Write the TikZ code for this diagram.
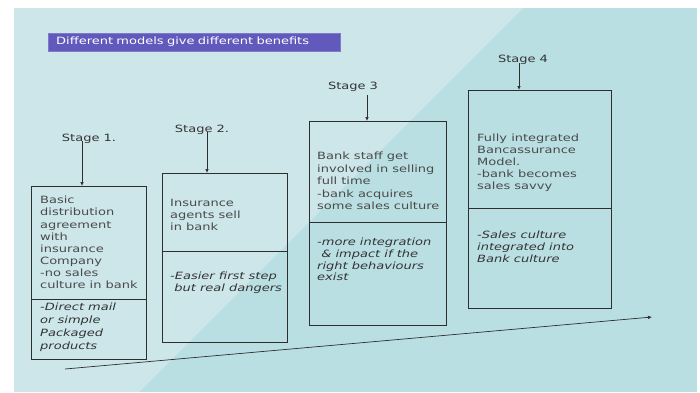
\documentclass[tikz,border=0pt]{standalone}
\usepackage{fontspec}
\setmainfont{DejaVu Sans}[FakeStretch=1.3]
\usetikzlibrary{arrows.meta}
\definecolor{bgdark}{HTML}{BADFE3}
\definecolor{bglight}{HTML}{CCE6EA}
\definecolor{titlefill}{HTML}{6159BC}
\definecolor{ink}{HTML}{2E2E2E}
\definecolor{txtup}{HTML}{4A4A4A}
\definecolor{txtlo}{HTML}{333333}
\tikzset{
  boxpart/.style={draw=ink, line width=0.8pt, inner sep=0pt, anchor=north west},
  uptext/.style={anchor=north west, inner sep=0pt, align=left, text=txtup, font=\fontsize{10}{12.1}\selectfont},
  lotext/.style={anchor=north west, inner sep=0pt, align=left, text=txtlo, font=\fontsize{10}{12}\selectfont\itshape},
  stagelabel/.style={inner sep=0pt, text=txtlo, font=\fontsize{10}{12}\selectfont},
  pointer/.style={draw=ink, line width=0.7pt, -{Latex[length=4pt,width=3.5pt]}},
}
\begin{document}
\begin{tikzpicture}[x=1pt,y=-1pt]
\useasboundingbox (0,0) rectangle (700,392);
\fill[white] (0,0) rectangle (700,392);
\fill[bgdark] (14,8) rectangle (697,392);
\fill[bglight] (14,8) -- (523,8) -- (139,392) -- (14,392) -- cycle;

% title
\node[fill=titlefill, draw=titlefill!80!white, text=white, anchor=north west, minimum height=18pt,
      inner xsep=8pt, inner ysep=0pt, text width=276pt, align=left,
      font=\fontsize{10}{12}\selectfont] (title) at (48,33) {Different models give different benefits};

% boxes
\node[boxpart, minimum width=115pt, minimum height=113pt] (u1) at (31,186) {};
\node[boxpart, minimum width=115pt, minimum height=60pt]  (l1) at (31,299) {};
\node[boxpart, minimum width=125pt, minimum height=78pt]  (u2) at (162,173) {};
\node[boxpart, minimum width=125pt, minimum height=91pt]  (l2) at (162,251) {};
\node[boxpart, minimum width=137pt, minimum height=101pt] (u3) at (309,121) {};
\node[boxpart, minimum width=137pt, minimum height=103pt] (l3) at (309,222) {};
\node[boxpart, minimum width=143pt, minimum height=118pt] (u4) at (468,90) {};
\node[boxpart, minimum width=143pt, minimum height=100pt] (l4) at (468,208) {};

% texts
\node[uptext] (t1) at (40,196) {Basic\\distribution\\agreement\\with\\insurance\\Company\\-no sales\\culture in bank};
\node[lotext, font=\fontsize{10}{12.8}\selectfont\itshape] (b1) at (40,303) {-Direct mail\\or simple\\Packaged\\products};
\node[uptext] (t2) at (170,199) {Insurance\\agents sell\\in bank};
\node[lotext, font=\fontsize{10}{11.5}\selectfont\itshape] (b2) at (170,272) {-Easier first step\\\ but real dangers};
\node[uptext, font=\fontsize{10}{12.4}\selectfont] (t3) at (317,152) {Bank staff get\\involved in selling\\full time\\-bank acquires\\some sales culture};
\node[lotext, font=\fontsize{10}{11.7}\selectfont\itshape] (b3) at (317,238) {-more integration\\\ \& impact if the\\right behaviours\\exist};
\node[uptext, font=\fontsize{10}{11.8}\selectfont] (t4) at (477,134) {Fully integrated\\Bancassurance\\Model.\\-bank becomes\\sales savvy};
\node[lotext] (b4) at (477,231) {-Sales culture\\integrated into\\Bank culture};

% stage labels
\node[stagelabel] (s1) at (89,139) {Stage 1.};
\node[stagelabel] (s2) at (202,130) {Stage 2.};
\node[stagelabel] (s3) at (353,87) {Stage 3};
\node[stagelabel] (s4) at (523,60) {Stage 4};

\coordinate (a1) at (82,141);
\coordinate (a2) at (207,132);
\coordinate (a3) at (367,95);
\coordinate (a4) at (519,63);
\draw[pointer] (a1) -- (a1 |- u1.north);
\draw[pointer] (a2) -- (a2 |- u2.north);
\draw[pointer] (a3) -- (a3 |- u3.north);
\draw[pointer] (a4) -- (a4 |- u4.north);

% progression arrow
\coordinate (p0) at (65,369);
\coordinate (p1) at (652,317);
\draw[pointer] (p0) -- (p1);
\end{tikzpicture}
\end{document}
